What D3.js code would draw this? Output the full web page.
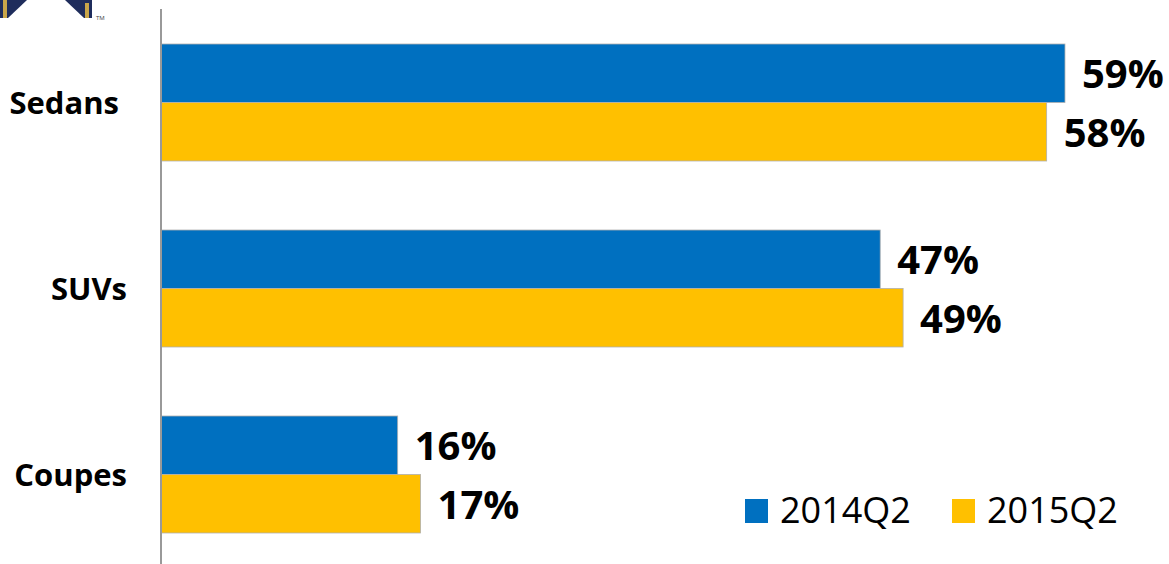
<!DOCTYPE html>
<html>
<head>
  <meta charset="utf-8">
  <title>Segment share</title>
  <script src="https://d3js.org/d3.v7.min.js"></script>
  <style>
    body { margin: 0; background: #fff; }
    svg { display: block; }
  </style>
</head>
<body>
  <svg id="chart"></svg>

  <script>
    // categories and series
    var categories = ["Sedans", "SUVs", "Coupes"];
    var series = ["2014Q2", "2015Q2"];
    // values (labels show rounded %)
    var values2014 = [59.2, 47.1, 15.5];
    var values2015 = [58.0, 48.6, 17.0];
    var colors = ["#0070C0", "#FFC000"];

    var width = 1169, height = 564;
    var svg = d3.select("#chart")
      .attr("width", width)
      .attr("height", height);

    // logo fragment top-left
    var logo = svg.append("g");
    logo.append("polygon").attr("points", "0,0 27,0 8,18 0,18").attr("fill", "#1f2d5c");
    logo.append("rect").attr("x", 3).attr("y", 0).attr("width", 4).attr("height", 18).attr("fill", "#c9a64a");
    logo.append("polygon").attr("points", "65,0 92,0 92,18 84,18").attr("fill", "#1f2d5c");
    logo.append("rect").attr("x", 85).attr("y", 3).attr("width", 4).attr("height", 15).attr("fill", "#c9a64a");
    logo.append("text").attr("x", 96).attr("y", 20)
      .attr("font-family", "Open Sans").attr("font-size", 6).attr("fill", "#444").text("TM");

    // scales
    var x = d3.scaleLinear().domain([0, 60]).range([161, 161 + 60 * 15.27]);
    var y = d3.scaleBand().domain(categories).range([9.5, 567.5])
      .paddingInner(0.371).paddingOuter(0.1855);
    var ys = d3.scaleBand().domain(series).range([0, y.bandwidth()]);

    var rows = categories.map(function(c, i) {
      return { cat: c, vals: [values2014[i], values2015[i]] };
    });

    var groups = svg.selectAll("g.cat")
      .data(rows)
      .enter().append("g")
      .attr("class", "cat")
      .attr("transform", function(d) { return "translate(0," + y(d.cat) + ")"; });

    groups.selectAll("rect")
      .data(function(d) { return d.vals.map(function(v, j) { return { s: series[j], v: v, j: j }; }); })
      .enter().append("rect")
      .attr("x", x(0))
      .attr("y", function(d) { return ys(d.s); })
      .attr("width", function(d) { return x(d.v) - x(0); })
      .attr("height", ys.bandwidth())
      .attr("fill", function(d) { return colors[d.j]; })
      .attr("stroke", "#b0b0b0")
      .attr("stroke-width", 0.8);

    // value labels
    groups.selectAll("text.val")
      .data(function(d) { return d.vals.map(function(v, j) { return { s: series[j], v: v }; }); })
      .enter().append("text")
      .attr("class", "val")
      .attr("x", function(d) { return x(d.v) + 17; })
      .attr("y", function(d) { return ys(d.s) + ys.bandwidth() / 2; })
      .attr("dy", "0.37em")
      .attr("font-family", "Open Sans")
      .attr("font-weight", "bold")
      .attr("font-size", 40)
      .attr("fill", "#000")
      .text(function(d) { return Math.round(d.v) + "%"; });

    // axis line
    svg.append("line")
      .attr("x1", x(0)).attr("x2", x(0))
      .attr("y1", 9).attr("y2", height)
      .attr("stroke", "#999").attr("stroke-width", 2);

    // category labels
    svg.selectAll("text.cat")
      .data(categories)
      .enter().append("text")
      .attr("class", "cat")
      .attr("x", 127)
      .attr("y", function(d) { return y(d) + y.bandwidth() / 2; })
      .attr("dy", "0.36em")
      .attr("text-anchor", "end")
      .attr("font-family", "Open Sans")
      .attr("font-weight", "bold")
      .attr("font-size", 31)
      .attr("fill", "#000")
      .text(function(d) { return d === "Sedans" ? d + "\u00A0" : d; });

    // legend
    var legendX = [745, 952];
    var legend = svg.selectAll("g.legend")
      .data(series)
      .enter().append("g")
      .attr("class", "legend")
      .attr("transform", function(d, i) { return "translate(" + legendX[i] + ",499)"; });
    legend.append("rect")
      .attr("width", 23).attr("height", 24)
      .attr("fill", function(d, i) { return colors[i]; });
    legend.append("text")
      .attr("x", 35).attr("y", 24)
      .attr("font-family", "Open Sans")
      .attr("font-size", 36)
      .attr("fill", "#000")
      .text(function(d) { return d; });
  </script>
</body>
</html>
